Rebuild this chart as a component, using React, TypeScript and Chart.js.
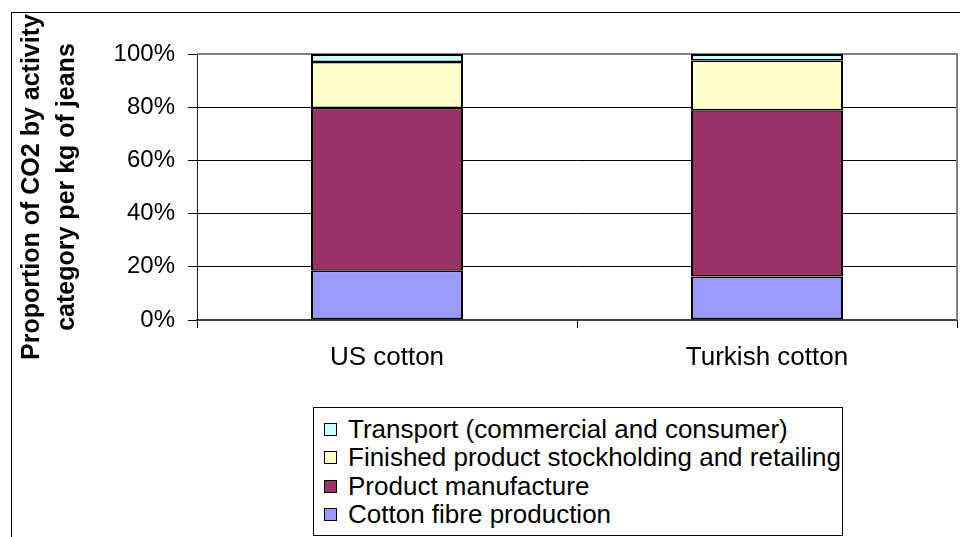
import React, { useEffect, useRef } from 'react';
import { Chart, registerables } from 'chart.js';

Chart.register(...registerables);

const categories = ['US cotton', 'Turkish cotton'];
const seriesNames = [
  'Cotton fibre production',
  'Product manufacture',
  'Finished product stockholding and retailing',
  'Transport (commercial and consumer)',
];
const cottonFibre = [18.5, 16.4];
const productManufacture = [61.2, 62.5];
const finishedProduct = [17.3, 18.7];
const transport = [3.0, 2.4];
const seriesColors = ['#9999FF', '#993366', '#FFFFCC', '#CCFFFF'];
const yTickMax = 100;
const yTickStep = 20;
const yTitle = ['Proportion of CO2 by activity', 'category per kg of jeans'];

const FONT = "'Liberation Sans', Arial, sans-serif";

const plotBorder = {
  id: 'plotBorder',
  beforeDatasetsDraw(chart: any) {
    const { ctx, chartArea } = chart;
    const { left, right, top, bottom } = chartArea;
    ctx.save();
    ctx.strokeStyle = '#808080';
    ctx.lineWidth = 2;
    ctx.beginPath();
    ctx.moveTo(left, top);
    ctx.lineTo(right, top);
    ctx.lineTo(right, bottom);
    ctx.stroke();
    ctx.restore();
  },
};

export default function App() {
  const canvasRef = useRef<HTMLCanvasElement>(null);

  useEffect(() => {
    const values = [cottonFibre, productManufacture, finishedProduct, transport];
    const datasets = seriesNames.map((name, i) => ({
      label: name,
      data: values[i],
      backgroundColor: seriesColors[i],
      borderColor: '#000000',
      borderWidth: {
        left: 2,
        right: 2,
        top: i === seriesNames.length - 1 ? 2 : 1.5,
        bottom: i === 0 ? 2 : 1.5,
      },
      borderSkipped: false,
      inflateAmount: 0,
      categoryPercentage: 0.8,
      barPercentage: 0.5,
    }));

    const chart = new Chart(canvasRef.current as HTMLCanvasElement, {
      type: 'bar',
      data: { labels: categories, datasets },
      plugins: [plotBorder],
      options: {
        animation: false,
        responsive: false,
        events: [],
        layout: { padding: { left: 12, top: 54, right: 3, bottom: 165 } },
        plugins: {
          legend: { display: false },
          tooltip: { enabled: false },
        },
        scales: {
          x: {
            stacked: true,
            offset: true,
            afterFit: (scale: any) => {
              scale.height = 52;
            },
            grid: {
              offset: true,
              drawOnChartArea: false,
              drawTicks: true,
              tickLength: 8,
              color: '#000000',
              lineWidth: 1,
            },
            border: { display: true, color: '#404040', width: 2 },
            ticks: {
              color: '#000000',
              padding: 14,
              font: { family: FONT, size: 26 },
            },
          },
          y: {
            stacked: true,
            min: 0,
            max: yTickMax,
            afterFit: (scale: any) => {
              scale.width = 185;
            },
            grid: {
              color: (c: any) => (c.tick && c.tick.value === yTickMax ? 'rgba(0,0,0,0)' : '#000000'),
              tickColor: '#000000',
              lineWidth: 1,
              drawTicks: true,
              tickLength: 9,
            },
            border: { display: true, color: '#202020', width: 1 },
            ticks: {
              stepSize: yTickStep,
              color: '#000000',
              padding: 13,
              font: { family: FONT, size: 24 },
              callback: (v: any) => v + '%',
            },
            title: {
              display: true,
              text: yTitle,
              color: '#000000',
              padding: { top: 3, bottom: 0 },
              font: { family: FONT, size: 25, weight: 'bold', lineHeight: 1.38 },
            },
          },
        },
      } as any,
    });
    return () => chart.destroy();
  }, []);

  const legendItems = seriesNames.map((n, i) => ({ name: n, color: seriesColors[i] })).reverse();

  return (
    <div
      style={{
        position: 'fixed',
        left: 0,
        top: 0,
        width: 960,
        height: 537,
        overflow: 'hidden',
        background: '#ffffff',
      }}
    >
      <div
        style={{
          position: 'absolute',
          left: 11,
          top: 12,
          width: 1000,
          height: 600,
          borderLeft: '1px solid #000',
          borderTop: '1px solid #000',
        }}
      />
      <canvas ref={canvasRef} width={960} height={537} style={{ position: 'absolute', left: 0, top: 0 }} />
      <div
        style={{
          position: 'absolute',
          left: 313,
          top: 407,
          width: 530,
          height: 129,
          border: '1px solid #000',
          background: '#fff',
          fontFamily: FONT,
          fontSize: 26,
          color: '#000',
          boxSizing: 'border-box',
          paddingTop: 7,
          paddingLeft: 10,
        }}
      >
        {legendItems.map((it) => (
          <div key={it.name} style={{ display: 'flex', alignItems: 'center', height: 28.5, whiteSpace: 'nowrap' }}>
            <span
              style={{
                display: 'inline-block',
                width: 11,
                height: 11,
                border: '1px solid #000',
                background: it.color,
                marginRight: 11,
                flex: 'none',
              }}
            />
            <span>{it.name}</span>
          </div>
        ))}
      </div>
    </div>
  );
}
